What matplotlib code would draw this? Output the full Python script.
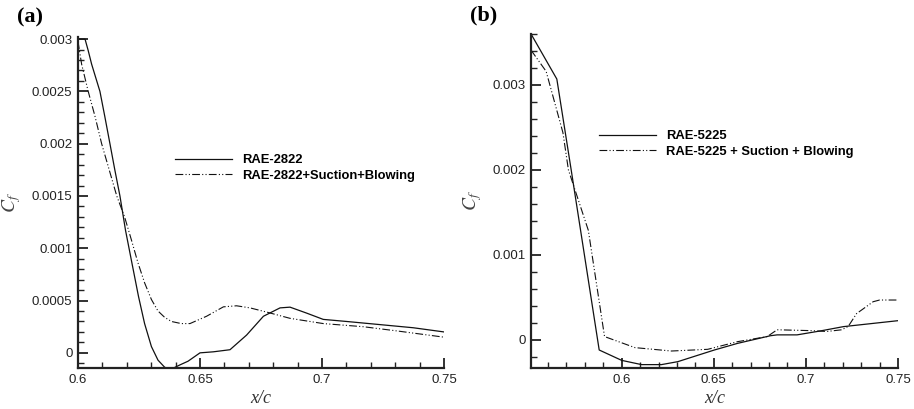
import numpy as np
import matplotlib
matplotlib.use('Agg')
import matplotlib.pyplot as plt
from matplotlib.ticker import MultipleLocator, FormatStrFormatter

plt.rcParams['font.family'] = ['Liberation Sans', 'DejaVu Sans']
plt.rcParams['mathtext.fontset'] = 'stix'

# (a) RAE-2822 skin friction
xa_base = [0.6, 0.6029, 0.6042, 0.6056, 0.609, 0.611, 0.6131, 0.6151, 0.6172, 0.6195,
           0.6221, 0.6248, 0.6273, 0.6301, 0.6328, 0.6355, 0.6375, 0.6396, 0.6418, 0.6451,
           0.65, 0.6555, 0.6623, 0.6691, 0.676, 0.6828, 0.6869, 0.6937, 0.7005, 0.7101,
           0.7238, 0.7374, 0.75]
cfa_base = [0.003, 0.003, 0.00289, 0.00276, 0.0025, 0.00226, 0.002, 0.00175, 0.0015, 0.00117,
            0.00086, 0.00054, 0.00028, 0.00006, -0.00007, -0.000137, -0.00016, -0.00014, -0.000115, -0.00008,
            0.0, 0.00001, 0.00003, 0.00017, 0.00035, 0.00043, 0.000437, 0.00038, 0.00032, 0.0003,
            0.00027, 0.00024, 0.0002]
xa_ctrl = [0.6, 0.6015, 0.6042, 0.607, 0.6097, 0.6128, 0.6159, 0.6191, 0.6219, 0.6246,
           0.6273, 0.6301, 0.6328, 0.6355, 0.6383, 0.6423, 0.6459, 0.6527, 0.6596, 0.665,
           0.6705, 0.6773, 0.6869, 0.7005, 0.7169, 0.7306, 0.75]
cfa_ctrl = [0.00298, 0.00276, 0.0025, 0.00226, 0.002, 0.00175, 0.0015, 0.0013, 0.00108, 0.00086,
            0.00067, 0.00051, 0.0004, 0.00034, 0.0003, 0.00028, 0.00028, 0.00035, 0.00044, 0.00045,
            0.00043, 0.00039, 0.00033, 0.00028, 0.00025, 0.00021, 0.00015]

# (b) RAE-5225 skin friction
xb_base = [0.5508, 0.5648, 0.5726, 0.5878, 0.6, 0.6108, 0.6216, 0.6305, 0.6503, 0.6629,
           0.6808, 0.6844, 0.6952, 0.7078, 0.7204, 0.75]
cfb_base = [0.0036, 0.00307, 0.002, -0.000118, -0.00024, -0.00029, -0.00029, -0.000255, -0.000118, -0.00004,
            0.00005, 0.00006, 0.00006, 0.000106, 0.000157, 0.000227]
xb_ctrl = [0.5508, 0.559, 0.5681, 0.5711, 0.5819, 0.5907, 0.6072, 0.627, 0.6467, 0.6629,
           0.679, 0.6844, 0.7024, 0.7114, 0.7195, 0.723, 0.7275, 0.7365, 0.74, 0.75]
cfb_ctrl = [0.00341, 0.00316, 0.00244, 0.002, 0.00129, 0.00004, -0.00009, -0.00013, -0.00011, -0.00002,
            0.00004, 0.00012, 0.00011, 0.0001, 0.00012, 0.00016, 0.00031, 0.00045, 0.00047, 0.00047]

dashdotdot = (0, (7, 2, 1, 2, 1, 2))

fig = plt.figure(figsize=(9.14, 4.09), dpi=100)
ax1 = fig.add_axes([0.0853, 0.1002, 0.4005, 0.8093])
ax2 = fig.add_axes([0.581, 0.1002, 0.4015, 0.8167])


def style(ax, xmaj, xmin_, ymaj, ymin_, fmt):
    for s in ['top', 'right']:
        ax.spines[s].set_visible(False)
    for s in ['left', 'bottom']:
        ax.spines[s].set_linewidth(1.6)
        ax.spines[s].set_color('#222222')
    ax.xaxis.set_major_locator(MultipleLocator(xmaj))
    ax.xaxis.set_minor_locator(MultipleLocator(xmin_))
    ax.yaxis.set_major_locator(MultipleLocator(ymaj))
    ax.yaxis.set_minor_locator(MultipleLocator(ymin_))
    ax.xaxis.set_major_formatter(FormatStrFormatter('%g'))
    ax.yaxis.set_major_formatter(FormatStrFormatter(fmt))
    ax.tick_params(which='both', direction='in', top=False, right=False,
                   labelsize=9.5, colors='#222222', pad=4)
    ax.tick_params(which='major', length=7, width=1.3)
    ax.tick_params(which='minor', length=4, width=1.0)
    ax.set_xlabel('x/c', family=['Liberation Serif'], style='italic', fontsize=13,
                  color='#333333', labelpad=3)
    ax.set_ylabel('$C_f$', fontsize=14, color='#444444', labelpad=6)


ax1.plot(xa_base, cfa_base, color='#111111', lw=0.9, label='RAE-2822')
ax1.plot(xa_ctrl, cfa_ctrl, color='#111111', lw=0.8, ls=dashdotdot,
         label='RAE-2822+Suction+Blowing')
ax1.set_xlim(0.6, 0.75)
ax1.set_ylim(-0.000145, 0.00302)
style(ax1, 0.05, 0.01, 0.0005, 0.0001, '%g')
ax1.legend(loc='upper left', bbox_to_anchor=(0.1915, 0.6235), bbox_transform=fig.transFigure,
           frameon=False, borderpad=0, borderaxespad=0, handlelength=4.4, handletextpad=0.75,
           labelspacing=0.25, prop={'weight': 'bold', 'size': 9.4})

ax2.plot(xb_base, cfb_base, color='#111111', lw=0.9, label='RAE-5225')
ax2.plot(xb_ctrl, cfb_ctrl, color='#111111', lw=0.8, ls=dashdotdot,
         label='RAE-5225 + Suction + Blowing')
ax2.set_xlim(0.5508, 0.75)
ax2.set_ylim(-0.00033, 0.0036)
style(ax2, 0.05, 0.01, 0.001, 0.0002, '%g')
ax2.legend(loc='upper left', bbox_to_anchor=(0.6554, 0.682), bbox_transform=fig.transFigure,
           frameon=False, borderpad=0, borderaxespad=0, handlelength=4.4, handletextpad=0.75,
           labelspacing=0.25, prop={'weight': 'bold', 'size': 9.4})

fig.text(0.019, 0.958, '(a)', family=['Liberation Serif'], weight='bold', fontsize=16,
         va='center', ha='left')
fig.text(0.514, 0.962, '(b)', family=['Liberation Serif'], weight='bold', fontsize=16,
         va='center', ha='left')

fig.savefig('out.png', dpi=100)
